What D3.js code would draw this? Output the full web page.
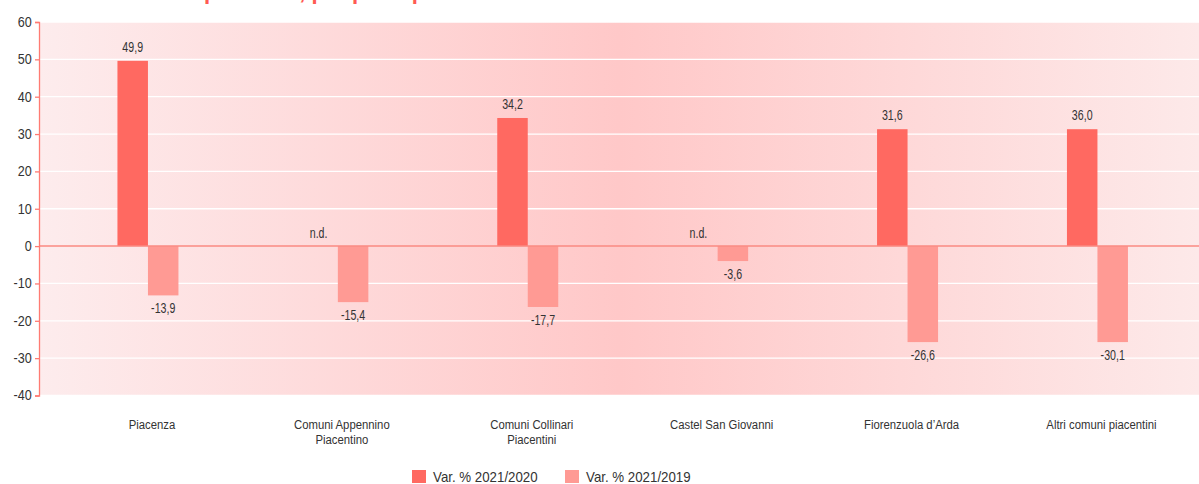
<!DOCTYPE html>
<html>
<head>
<meta charset="utf-8">
<script src="https://cdn.jsdelivr.net/npm/d3@7"></script>
<style>
  html, body { margin: 0; padding: 0; background: #ffffff; }
  svg { display: block; }
  text { font-family: "Liberation Sans", Arial, sans-serif; }
</style>
</head>
<body>
<svg id="chart" width="1199" height="484"></svg>
<script>
// ---- data ----
const categories = [
  ["Piacenza"],
  ["Comuni Appennino", "Piacentino"],
  ["Comuni Collinari", "Piacentini"],
  ["Castel San Giovanni"],
  ["Fiorenzuola d\u2019Arda"],
  ["Altri comuni piacentini"]
];
const seriesNames = ["Var. % 2021/2020", "Var. % 2021/2019"];
// bar heights as drawn in the picture (null = n.d.)
const var2021_2020 = [49.6, null, 34.3, null, 31.3, 31.3];
const var2021_2019 = [-13.2, -15.0, -16.3, -4.0, -25.7, -25.7];
// printed value labels
const labels2021_2020 = ["49,9", "n.d.", "34,2", "n.d.", "31,6", "36,0"];
const labels2021_2019 = ["-13,9", "-15,4", "-17,7", "-3,6", "-26,6", "-30,1"];
const yTicks = [-40, -30, -20, -10, 0, 10, 20, 30, 40, 50, 60];
const titleText = ["Variazione % ", "presenze, per principali ambiti territoriali"];

// ---- layout ----
const plotLeft = 39, plotRight = 1199, plotTop = 22, plotBottom = 395.5;
const colors = ["#ff6961", "#ff9a94"];

const svg = d3.select("#chart");

// condensed text helper: places text at (x,y) and squeezes horizontally
function condense(sel, sx) {
  sel.each(function() {
    const t = d3.select(this);
    const x = +t.attr("x") || 0, y = +t.attr("y") || 0;
    t.attr("x", 0).attr("y", 0)
     .attr("transform", `translate(${x},${y}) scale(${sx},1)`);
    t.selectAll("tspan").attr("x", 0);
  });
}

// gradient background
const defs = svg.append("defs");
const grad = defs.append("linearGradient").attr("id", "bg").attr("x1", "0%").attr("x2", "100%");
grad.append("stop").attr("offset", "0%").attr("stop-color", "#fdeced");
grad.append("stop").attr("offset", "50%").attr("stop-color", "#ffc8c8");
grad.append("stop").attr("offset", "100%").attr("stop-color", "#fde9e9");

const y = d3.scaleLinear().domain([-40, 60]).range([plotBottom, plotTop]);
const x = d3.scaleBand().domain(d3.range(categories.length)).range([53, 1192.4]);
const xs = d3.scaleBand().domain([0, 1]).range([0, 61]);

// title (mostly cut off at top, as in the reference)
const titleFont = sel => sel
  .style("font-family", "'Liberation Sans', Arial, sans-serif")
  .style("font-weight", "bold").style("font-size", "22px");
const tmp = svg.append("text").call(titleFont).text("Variazione %\u00a0");
const prefixW = tmp.node().getComputedTextLength();
tmp.remove();
svg.append("text").call(titleFont)
  .attr("x", 204 - prefixW).attr("y", -1)
  .attr("fill", "#ff5a52")
  .text(titleText[0] + titleText[1]);

svg.append("rect")
  .attr("x", plotLeft).attr("y", plotTop)
  .attr("width", plotRight - plotLeft).attr("height", plotBottom - plotTop)
  .attr("fill", "url(#bg)");

// gridlines
svg.append("g").selectAll("line").data(yTicks.filter(d => d !== 0)).join("line")
  .attr("x1", plotLeft).attr("x2", plotRight)
  .attr("y1", d => y(d)).attr("y2", d => y(d))
  .attr("stroke", "#ffffff").attr("stroke-width", 1.3);

// bars
const series = [var2021_2020, var2021_2019];
const seriesLabels = [labels2021_2020, labels2021_2019];
const barX = (i, s) => x(i) + x.bandwidth() / 2 - 30.5 + xs(s);
series.forEach((vals, s) => {
  svg.append("g").selectAll("rect").data(vals.map((v, i) => ({v, i})).filter(d => d.v !== null)).join("rect")
    .attr("x", d => barX(d.i, s))
    .attr("width", xs.bandwidth())
    .attr("y", d => y(Math.max(0, d.v)))
    .attr("height", d => Math.abs(y(d.v) - y(0)))
    .attr("fill", colors[s]);
});

// zero line
svg.append("line")
  .attr("x1", plotLeft).attr("x2", plotRight)
  .attr("y1", y(0)).attr("y2", y(0))
  .attr("stroke", "#fa8a82").attr("stroke-width", 1.5);

// value labels
series.forEach((vals, s) => {
  svg.append("g").selectAll("text").data(vals.map((v, i) => ({v, i}))).join("text")
    .attr("x", d => barX(d.i, s) + xs.bandwidth() / 2 - (d.v === null ? 4 : 0))
    .attr("y", d => d.v === null ? y(0) - 8 : (d.v >= 0 ? y(d.v) - 9 : y(d.v) + 18))
    .attr("text-anchor", "middle")
    .attr("fill", "#333333")
    .style("font-size", "14px")
    .text(d => seriesLabels[s][d.i])
    .call(condense, 0.76);
});

// y axis
const yAxis = d3.axisLeft(y).tickValues(yTicks).tickSize(4).tickPadding(4).tickFormat(d => String(d));
const gy = svg.append("g").attr("transform", `translate(${plotLeft},0)`).call(yAxis);
gy.select(".domain").attr("stroke", "#ff7b73").attr("stroke-width", 1.3);
gy.selectAll(".tick line").attr("stroke", "#ff7b73").attr("stroke-width", 1.3);
gy.selectAll(".tick text")
  .attr("fill", "#333333")
  .style("font-family", "'Liberation Sans', Arial, sans-serif")
  .style("font-size", "14px")
  .attr("transform", "scale(0.9,1)");

// category labels
const cat = svg.append("g").selectAll("text").data(categories).join("text")
  .attr("x", (d, i) => x(i) + x.bandwidth() / 2 + 4)
  .attr("y", 429)
  .attr("text-anchor", "middle")
  .attr("fill", "#333333")
  .style("font-size", "13.5px");
cat.selectAll("tspan").data(d => d).join("tspan")
  .attr("dy", (d, i) => i === 0 ? 0 : 15)
  .text(d => d);
cat.call(condense, 0.84);

// legend
const legendX = [412, 565];
const lg = svg.append("g").selectAll("g").data(seriesNames).join("g")
  .attr("transform", (d, i) => `translate(${legendX[i]},470)`);
lg.append("rect").attr("width", 14).attr("height", 13).attr("fill", (d, i) => colors[i]);
lg.append("text").attr("x", 21).attr("y", 12)
  .attr("fill", "#333333").style("font-size", "14px").text(d => d)
  .call(condense, 0.95);
</script>
</body>
</html>
